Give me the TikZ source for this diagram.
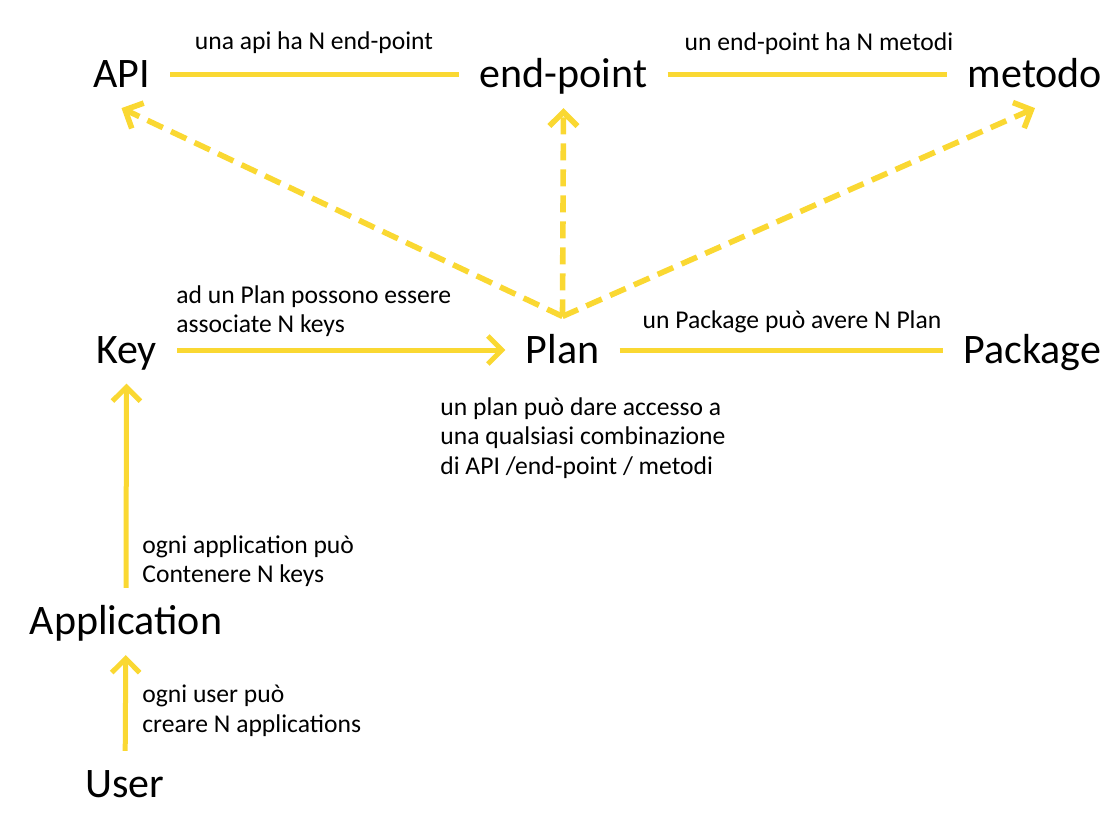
\documentclass[tikz,border=0pt]{standalone}
\usepackage{fontspec}
\setmainfont{Carlito}
\usetikzlibrary{arrows.meta}
\definecolor{linkyellow}{RGB}{250,216,50}
\tikzset{
    entity/.style={font=\fontsize{21}{25}\selectfont, text height=13.2pt, text depth=0pt, inner sep=10pt},
    note/.style={font=\fontsize{12.8}{14.8}\selectfont, align=left, inner sep=0pt},
    link/.style={draw=linkyellow, line width=2.5pt},
    has/.style={link, -{Straight Barb[length=7pt,width=14pt]}},
    access/.style={has, line width=2.8pt, dash pattern=on 8.5pt off 4.5pt},
}
\begin{document}
\begin{tikzpicture}[x=0.5pt, y=-0.5pt]
    \useasboundingbox (0, 0) rectangle (1114, 824);
    % Top row
    \node[entity] (api) at (121.5, 74.5) {API};
    \node[entity] (endpoint) at (563.5, 74.5) {end-point};
    \node[entity] (metodo) at (1035, 74.5) {metodo};
    % Middle row
    \node[entity] (key) at (126.5, 350) {Key};
    \node[entity] (plan) at (562.5, 350) {Plan};
    \node[entity] (package) at (1032.5, 350) {Package};
    % Left column
    \node[entity] (app) at (126, 621.5) {Application};
    \node[entity] (user) at (125, 784.5) {User};
    % Notes
    \node[note] (apinote) at (314, 43) {una api ha N end-point};
    \node[note] (endpointnote) at (819, 44) {un end-point ha N metodi};
    \node[note, anchor=west] (keynote) at (176, 311) {ad un Plan possono essere\\associate N keys};
    \node[note] (packagenote) at (792, 322) {un Package può avere N Plan};
    \node[note, anchor=west] (plannote) at (440, 438) {un plan può dare accesso a\\una qualsiasi combinazione\\di API /end-point / metodi};
    \node[note, anchor=west] (appnote) at (142, 561) {ogni application può\\Contenere N keys};
    \node[note, anchor=west] (usernote) at (142, 711) {ogni user può\\creare N applications};
    % Plain links
    \draw[link] (api) -- (endpoint);
    \draw[link] (endpoint) -- (metodo);
    \draw[link] (plan) -- (package);
    % Arrows
    \draw[has] (key) -- (plan);
    \draw[has] (app) -- (key);
    \draw[has] (user) -- (app);
    % What a plan gives access to
    \draw[access] (plan.north) -- (api.south);
    \draw[access] (plan.north) -- (endpoint.south);
    \draw[access] (plan.north) -- (metodo.south);
\end{tikzpicture}
\end{document}
